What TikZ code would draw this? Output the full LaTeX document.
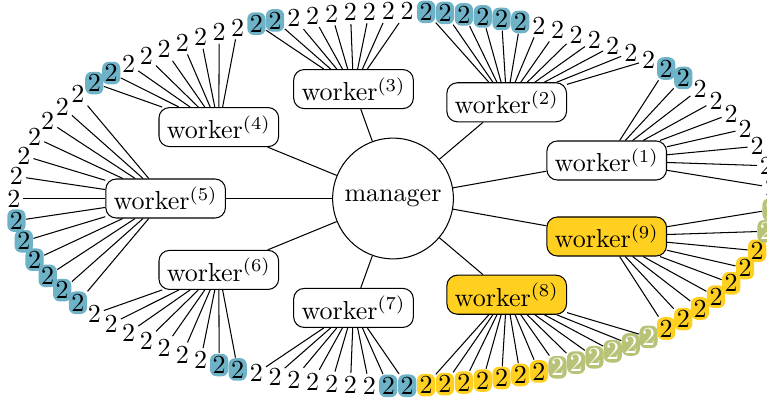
\documentclass[tikz,border=0pt]{standalone}
\usepackage{tikz}
\usetikzlibrary{calc,decorations.markings}
\definecolor{hlblue}{RGB}{110,178,200}
\definecolor{hlyellow}{RGB}{255,208,32}
\definecolor{hlolive}{RGB}{185,195,120}

\begin{document}
\begin{tikzpicture}[
    worker/.style={draw, rounded corners=4pt, fill=white, inner sep=3pt},
    leaf/.style={inner sep=1pt, rounded corners=2.5pt},
    leafblue/.style={leaf, fill=hlblue},
    leafyellow/.style={leaf, fill=hlyellow},
    leafolive/.style={leaf, fill=hlolive, text=white}]

  \useasboundingbox (-5.306,-2.761) rectangle (5.049,2.680);

  % Manager
  \node[draw, circle, minimum size=1.63cm] (mgr) at (0,0) {manager};

  % Workers on an inner ellipse
  \foreach \i/\c in {1/white,2/white,3/white,4/white,5/white,6/white,7/white,8/hlyellow,9/hlyellow}{
    \node[worker, fill=\c] (w\i) at ({20+40*(\i-1)}:3.07cm and 1.5cm) {worker$^{(\i)}$};
    \draw (mgr) -- (w\i);
  }

  % Leaf positions: even steps on a flatter helper ellipse,
  % carried over to the outer ellipse by their angle
  \foreach \k in {1,...,93}
    \path[decorate, decoration={markings, mark=at position (\k-0.5)/93 with {\coordinate (q\k);}}]
      (0,0) ellipse (2.4cm and 1cm);
  \foreach \k in {1,...,93}
    \path let \p1=(q\k) in ({atan2(2.4*\y1,\x1)}:5.12cm and 2.53cm) coordinate (p\k);

  % Leaves: 7 plain ones, then the marked ones
  \foreach \w/\s/\m/\pst/\hst in {1/1/2/leaf/leafblue, 2/10/6/leaf/leafblue, 3/23/2/leaf/leafblue,
      4/32/2/leaf/leafblue, 5/41/6/leaf/leafblue, 6/54/2/leaf/leafblue, 7/63/2/leaf/leafblue,
      8/72/6/leafyellow/leafolive, 9/85/2/leafyellow/leafolive}{
    \foreach \j in {0,...,6}{
      \pgfmathtruncatemacro\k{\s+\j}
      \node[\pst] (l\k) at (p\k) {2};
      \draw (w\w) -- (l\k);
    }
    \foreach \j in {1,...,\m}{
      \pgfmathtruncatemacro\k{\s+6+\j}
      \node[\hst] (l\k) at (p\k) {2};
      \draw (w\w) -- (l\k);
    }
  }
\end{tikzpicture}
\end{document}
